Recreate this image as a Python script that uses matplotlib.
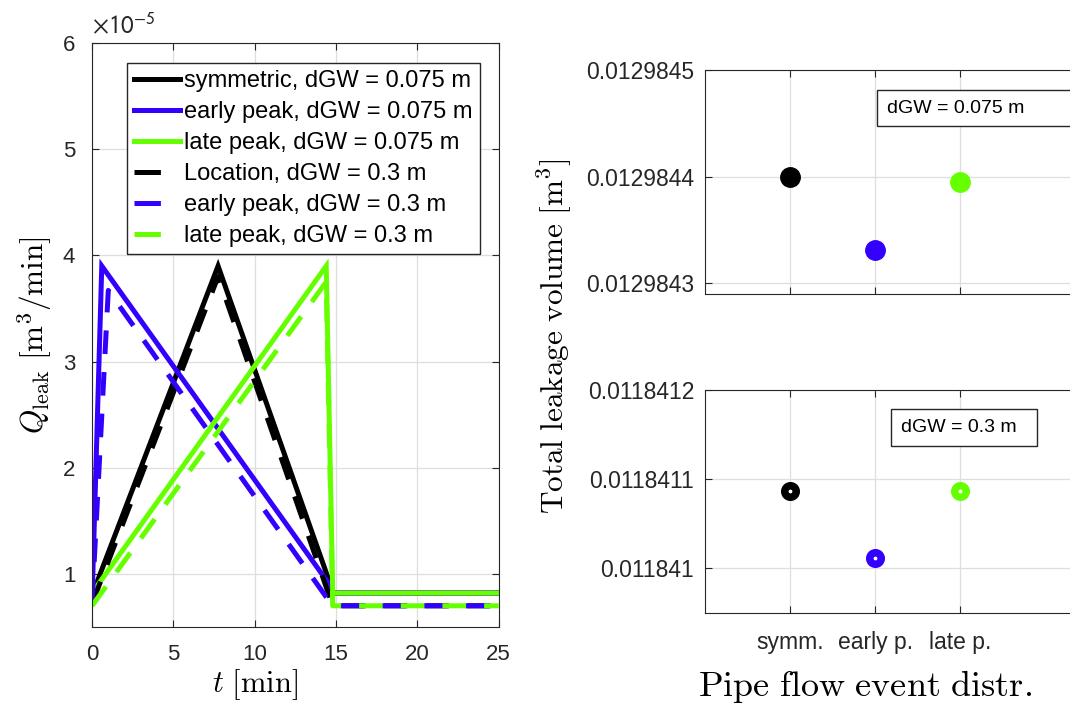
import numpy as np
import matplotlib
matplotlib.use("Agg")
import matplotlib.pyplot as plt
from matplotlib.lines import Line2D
from matplotlib.ticker import FormatStrFormatter

plt.rcParams['font.family'] = ['Liberation Sans', 'DejaVu Sans']
plt.rcParams['mathtext.fontset'] = 'cm'
plt.rcParams['lines.scale_dashes'] = False

# colours (MATLAB-like)
BLACK = '#000000'
BLUE = '#3300ff'
GREEN = '#66ff00'
DARK = '#262626'

# leakage rate over time, Q in units of 1e-5 m3/min
t_sym_075 = [0, 7.75, 14.75, 14.85, 25]
q_sym_075 = [0.80, 3.90, 0.86, 0.82, 0.82]
t_early_075 = [0, 0.6, 14.6, 14.8, 25]
q_early_075 = [0.73, 3.90, 0.90, 0.82, 0.82]
t_late_075 = [0, 14.4, 14.8, 25]
q_late_075 = [0.82, 3.90, 0.82, 0.82]

t_sym_03 = [0, 7.75, 14.8, 25]
q_sym_03 = [0.72, 3.80, 0.70, 0.70]
t_early_03 = [0, 1.0, 14.6, 14.8, 25]
q_early_03 = [0.72, 3.67, 0.74, 0.70, 0.70]
t_late_03 = [0, 14.4, 14.8, 25]
q_late_03 = [0.70, 3.75, 0.70, 0.70]

legend_labels = ['symmetric, dGW = 0.075 m', 'early peak, dGW = 0.075 m',
                 'late peak, dGW = 0.075 m', 'Location, dGW = 0.3 m',
                 'early peak, dGW = 0.3 m', 'late peak, dGW = 0.3 m']

# total leakage volume per event distribution
distr_labels = ['symm.', 'early p.', 'late p.']
distr_pos = [1, 2, 3]
vol_075 = [0.01298440, 0.012984331, 0.012984395]
vol_03 = [0.0118410869, 0.0118410112, 0.0118410869]
colors = [BLACK, BLUE, GREEN]

fig = plt.figure(figsize=(10.70, 7.05), dpi=100)

# ---------------- left: time series ----------------
ax = fig.add_axes([0.086, 0.1106, 0.380, 0.8284])
lw = 3.6
dash = (0, (17, 13))
ax.plot(t_sym_075, q_sym_075, color=BLACK, lw=lw, solid_joinstyle='miter')
ax.plot(t_early_075, q_early_075, color=BLUE, lw=lw, solid_joinstyle='miter')
ax.plot(t_late_075, q_late_075, color=GREEN, lw=lw, solid_joinstyle='miter')
ax.plot(t_sym_03, q_sym_03, color=BLACK, lw=lw, linestyle=dash)
ax.plot(t_early_03, q_early_03, color=BLUE, lw=lw, linestyle=dash)
ax.plot(t_late_03, q_late_03, color=GREEN, lw=lw, linestyle=dash)

ax.set_xlim(0, 25)
ax.set_ylim(0.5, 6)
ax.set_xticks([0, 5, 10, 15, 20, 25])
ax.set_yticks([1, 2, 3, 4, 5, 6])
ax.grid(True, color='#dedede', lw=0.9)
ax.tick_params(direction='in', top=True, right=True, labelsize=16,
               colors=DARK, length=5, pad=12)
for s in ax.spines.values():
    s.set_color(DARK)
ax.text(0.0, 1.008, r'$\times 10^{-5}$', transform=ax.transAxes, fontsize=18,
        color=DARK, math_fontfamily='stixsans', ha='left', va='bottom')

ax.set_ylabel(r'$Q_{\rm leak}\ [{\rm m}^3/{\rm min}]$', fontsize=22.5, labelpad=6)
ax.set_xlabel(r'$t\ [{\rm min}]$', fontsize=22)
ax.xaxis.set_label_coords(0.40, -0.098)
ax.xaxis.label.set_va('center')

handles = []
for i, c in enumerate([BLACK, BLUE, GREEN] * 2):
    if i < 3:
        handles.append(Line2D([], [], color=c, lw=lw))
    else:
        handles.append(Line2D([], [], color=c, lw=lw, linestyle=(0, (19, 40))))
leg = ax.legend(handles, legend_labels, loc='upper right',
                bbox_to_anchor=(0.953, 0.966), borderaxespad=0, fontsize=17,
                fancybox=False, framealpha=1, edgecolor=DARK,
                handlelength=1.95, handletextpad=0.15, labelspacing=0.38,
                borderpad=0.3)
leg.get_frame().set_linewidth(1.0)

# ---------------- right: total volumes ----------------
ax1 = fig.add_axes([0.659, 0.583, 0.3694, 0.3177])
ax2 = fig.add_axes([0.659, 0.1305, 0.3694, 0.3163])

for x, v, c in zip(distr_pos, vol_075, colors):
    ax1.plot(x, v, 'o', color=c, markersize=14)
for x, v, c in zip(distr_pos, vol_03, colors):
    ax2.plot(x, v, 'o', markerfacecolor='white', markeredgecolor=c,
             markersize=8.3, markeredgewidth=5.4)

ax1.set_ylim(0.01298429, 0.0129845)
ax1.set_yticks([0.0129843, 0.0129844, 0.0129845])
ax2.set_ylim(0.01184095, 0.0118412)
ax2.set_yticks([0.011841, 0.0118411, 0.0118412])

for a in (ax1, ax2):
    a.set_xlim(0, 4.65)
    a.set_xticks(distr_pos)
    a.yaxis.set_major_formatter(FormatStrFormatter('%g'))
    a.grid(True, color='#dedede', lw=0.9)
    a.tick_params(direction='in', top=True, right=True, labelsize=16.5,
                  colors=DARK, length=5, pad=8)
    for s in a.spines.values():
        s.set_color(DARK)
ax1.set_xticklabels([])
ax2.set_xticklabels(distr_labels)
ax2.tick_params(axis='x', pad=13)

box = dict(boxstyle='square,pad=0.5', facecolor='white', edgecolor=DARK, lw=1.0)
fig.text(0.829, 0.8468, 'dGW = 0.075 m               ', fontsize=14,
         ha='left', va='center', bbox=box)
fig.text(0.842, 0.3936, 'dGW = 0.3 m  ', fontsize=14,
         ha='left', va='center', bbox=box)

fig.text(0.518, 0.523, r'$\mathrm{Total\ leakage\ volume\ [m^3]}$',
         rotation=90, fontsize=22.5, ha='center', va='center')
fig.text(0.808, 0.026, r'$\mathrm{Pipe\ flow\ event\ distr.}$',
         fontsize=26, ha='center', va='center')

fig.savefig('out.png', dpi=100)
